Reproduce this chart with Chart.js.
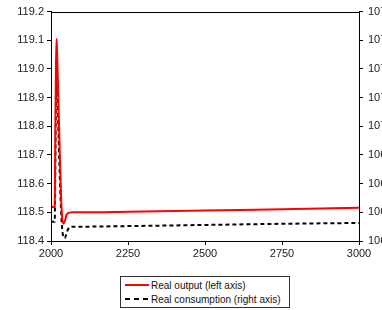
<!DOCTYPE html>
<html><head><meta charset="utf-8">
<script src="https://cdn.jsdelivr.net/npm/chart.js@4"></script>
<style>
html,body{margin:0;padding:0;background:#fff;overflow:hidden;}
#wrap{position:relative;width:382px;height:310px;overflow:hidden;background:#fff;}
#cw{position:absolute;left:0;top:0;width:400px;height:265px;}
#legend{position:absolute;left:120px;top:276px;width:170px;height:32px;border:1px solid #333;box-sizing:border-box;font-family:"Liberation Sans",Arial,sans-serif;font-size:10px;color:#111;padding-top:1px;}
.row{display:flex;align-items:center;height:14px;padding-left:4px;white-space:nowrap;}
.sample{width:24px;height:2px;margin-right:2px;}
.red{background:#ff0000;}
.dash{background:repeating-linear-gradient(90deg,#000 0 5px,transparent 5px 9px);}
</style></head>
<body>
<div id="wrap">
  <div id="cw"><canvas id="c" width="400" height="265"></canvas></div>
  <div id="legend">
    <div class="row"><span class="sample red"></span><span>Real output (left axis)</span></div>
    <div class="row"><span class="sample dash"></span><span>Real consumption (right axis)</span></div>
  </div>
</div>
<script>
const years = [2000, 2012, 2014, 2016, 2018, 2020, 2025, 2030, 2035, 2040, 2045, 2050, 2055, 2060, 2070, 2100, 2250, 2500, 2750, 3000];
const realOutput = [118.519, 118.519, 118.75, 119.0, 119.105, 119.05, 118.85, 118.65, 118.5, 118.46, 118.47, 118.49, 118.497, 118.499, 118.5, 118.5, 118.502, 118.506, 118.511, 118.516];
const realConsumption = [106.667, 106.667, 106.85, 107.1, 107.204, 107.15, 106.95, 106.78, 106.66, 106.615, 106.61, 106.625, 106.64, 106.648, 106.65, 106.65, 106.652, 106.656, 106.66, 106.663];
const xTicks = [2000, 2250, 2500, 2750, 3000];
const leftTicks = [118.4, 118.5, 118.6, 118.7, 118.8, 118.9, 119.0, 119.1, 119.2];
const rightTicks = [106.6, 106.7, 106.8, 106.9, 107.0, 107.1, 107.2, 107.3, 107.4];

const font = {family: '"Liberation Sans", Arial, sans-serif', size: 11};
const frame = {
  id: 'frame',
  afterDatasetsDraw(chart) {
    const a = chart.chartArea, ctx = chart.ctx;
    ctx.save();
    ctx.strokeStyle = '#000';
    ctx.lineWidth = 1;
    ctx.strokeRect(Math.round(a.left) + 0.5, Math.round(a.top) + 0.5, Math.round(a.right - a.left), Math.round(a.bottom - a.top));
    ctx.restore();
  }
};
const axisCommon = (ticks) => ({
  afterBuildTicks: s => { s.ticks = ticks.map(v => ({value: v})); },
  grid: {drawOnChartArea: false, tickLength: 4, color: '#000', lineWidth: 1},
  border: {color: '#000', width: 1}
});

new Chart(document.getElementById('c'), {
  type: 'line',
  data: {
    datasets: [
      {label: 'Real output (left axis)', data: years.map((x, i) => ({x, y: realOutput[i]})), borderColor: '#ff0000', borderWidth: 2, yAxisID: 'yL', pointRadius: 0, cubicInterpolationMode: 'monotone'},
      {label: 'Real consumption (right axis)', data: years.map((x, i) => ({x, y: realConsumption[i]})), borderColor: '#000', borderWidth: 2, borderDash: [4, 3], yAxisID: 'yR', pointRadius: 0, cubicInterpolationMode: 'monotone'}
    ]
  },
  options: {
    responsive: false,
    animation: false,
    devicePixelRatio: 1,
    layout: {padding: {top: 10, left: 0, right: 0, bottom: 0}},
    plugins: {legend: {display: false}, tooltip: {enabled: false}},
    scales: {
      x: Object.assign(axisCommon(xTicks), {type: 'linear', min: 2000, max: 3000, afterFit: s => { s.height = 24; },
        ticks: {font, color: '#222', padding: 2, maxRotation: 0, autoSkip: false, callback: v => String(v)}}),
      yL: Object.assign(axisCommon(leftTicks), {position: 'left', min: 118.4, max: 119.2, afterFit: s => { s.width = 51; },
        ticks: {font, color: '#222', padding: 3, autoSkip: false, callback: v => v.toFixed(1)}}),
      yR: Object.assign(axisCommon(rightTicks), {position: 'right', min: 106.6, max: 107.4, afterFit: s => { s.width = 41; },
        ticks: {font, color: '#222', padding: 5, autoSkip: false, callback: v => v.toFixed(1)}})
    }
  },
  plugins: [frame]
});
</script>
</body></html>
